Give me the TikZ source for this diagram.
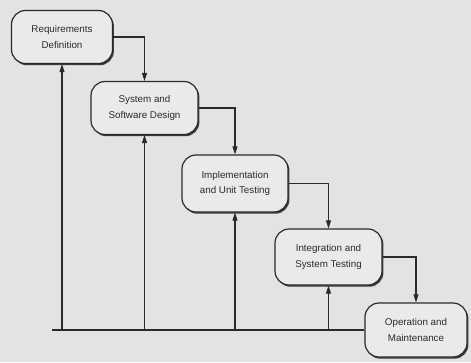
\documentclass[tikz,border=0pt]{standalone}
\usepackage{fontspec}
\setmainfont{Liberation Sans}
\usetikzlibrary{arrows.meta,shadows}
\definecolor{paper}{HTML}{E3E3E3}
\definecolor{boxfill}{HTML}{EAEAEA}
\definecolor{ink}{HTML}{2A2A2A}
\tikzset{
  phase/.style={draw=ink, line width=1.2pt, fill=boxfill, rounded corners=14pt,
    minimum width=101pt, minimum height=53pt, align=center, inner sep=2pt,
    font=\fontsize{9.8}{15.5}\selectfont, text=ink,
    drop shadow={shadow xshift=1.4pt, shadow yshift=-1.7pt, fill=ink, opacity=0.9}},
  flow/.style={draw=ink, line width=1.1pt, -{Triangle[length=8pt,width=5pt]}},
  feed/.style={draw=ink, line width=1.1pt}
}
\begin{document}
\begin{tikzpicture}[x=1pt,y=-1pt]
  \fill[paper] (0,0) rectangle (471,362);
  \useasboundingbox (0,0) rectangle (471,362);

  \node[phase] (req) at (62,37) {Requirements\\Definition};
  \node[phase, minimum width=107pt] (des) at (144.5,108) {System and\\Software Design};
  \node[phase, minimum width=106pt, minimum height=57pt] (imp) at (235,183.5) {Implementation\\and Unit Testing};
  \node[phase, minimum width=107pt, minimum height=56pt] (int) at (328.5,257) {Integration and\\System Testing};
  \node[phase, minimum width=102pt, minimum height=54pt] (ops) at (416,330) {Operation and\\Maintenance};

  % cascade downwards
  \draw[flow] (req.east) -| (des.north);
  \draw[flow] (des.east) -| (imp.north);
  \draw[flow] (imp.east) -| (int.north);
  \draw[flow] (int.east) -| (ops.north);

  % feedback bus along the bottom
  \coordinate (busstart) at (52,330);
  \draw[feed] (busstart) -- (ops.west);
  \draw[flow] (busstart -| req.south) -- (req.south);
  \draw[flow] (busstart -| des.south) -- (des.south);
  \draw[flow] (busstart -| imp.south) -- (imp.south);
  \draw[flow] (busstart -| int.south) -- (int.south);
\end{tikzpicture}
\end{document}
